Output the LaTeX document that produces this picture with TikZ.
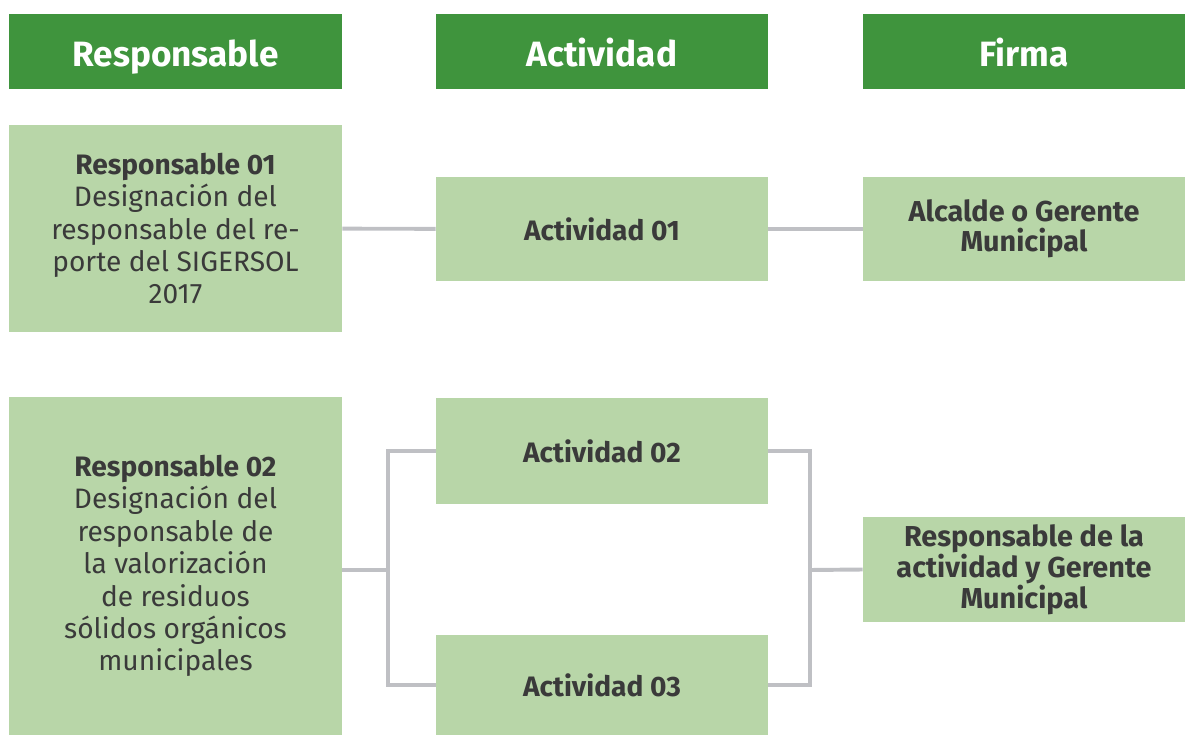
\documentclass[tikz,border=0pt]{standalone}
\usepackage{fontspec}
\setmainfont{Fira Sans}
\usetikzlibrary{positioning}
\definecolor{hdrgreen}{HTML}{3F943D}
\definecolor{boxgreen}{HTML}{B8D6A8}
\definecolor{txtgray}{HTML}{3A3A3A}
\definecolor{linegray}{HTML}{BFC0C4}
\tikzset{
	hdr/.style={fill=hdrgreen, text=white, inner sep=0pt, minimum height=1.875cm,
		text height=22pt, text depth=0pt,
		font=\fontsize{25}{30}\selectfont\bfseries},
	box/.style={fill=boxgreen, text=txtgray, align=center, inner sep=0pt},
	conn/.style={draw=linegray, line width=2.8pt},
}

\begin{document}
\begin{tikzpicture}[
            x=0.025cm, y=-0.025cm,
            resp/.style={box, minimum width=8.325cm, font=\fontsize{20}{23}\selectfont},
            act/.style={box, minimum width=8.3cm, font=\fontsize{20}{24}\selectfont\bfseries},
            firma/.style={box, minimum width=8.05cm, minimum height=2.6cm,
                font=\fontsize{20.5}{21}\selectfont\bfseries}
        ]
        \useasboundingbox (0,0) rectangle (1185,735);

        \node[hdr, minimum width=8.325cm] (hresp) at (175.5,51.5) {Responsable};
        \node[hdr, minimum width=8.3cm] (hact) at (602,51.5) {Actividad};
        \node[hdr, minimum width=8.05cm] (hfirma) at (1024,51.5) {Firma};

        \node[resp, minimum height=5.175cm] (resp1) at (175.5,228.5)
            {{\bfseries Responsable 01}\\Designación del\\responsable del re-\\porte del SIGERSOL\\2017};
        \node[resp, minimum height=8.45cm] (resp2) at (175.5,566)
            {{\bfseries Responsable 02}\\Designación del\\responsable de\\la valorización\\de residuos\\sólidos orgánicos\\municipales};

        \node[act, minimum height=2.6cm] (act1) at (602,229) {Actividad 01};
        \node[act, minimum height=2.625cm] (act2) at (602,451) {Actividad 02};
        \node[act, minimum height=2.5cm] (act3) at (602,685) {Actividad 03};

        \node[firma] (firma1) at (1024,229) {Alcalde o Gerente\\Municipal};
        \node[firma] (firma2) at (1024,569.5) {Responsable de la\\actividad y Gerente\\Municipal};

        \coordinate (jleft) at (388,570);
        \coordinate (jright) at (810,570);

        \draw[conn] (resp1) -- (act1);
        \draw[conn] (act1) -- (firma1);
        \draw[conn] (resp2.east |- jleft) -- (jleft);
        \draw[conn] (act2.west) -| (jleft) |- (act3.west);
        \draw[conn] (act2.east) -| (jright) |- (act3.east);
        \draw[conn] (jright) -- (firma2.west);
    \end{tikzpicture}
\end{document}
